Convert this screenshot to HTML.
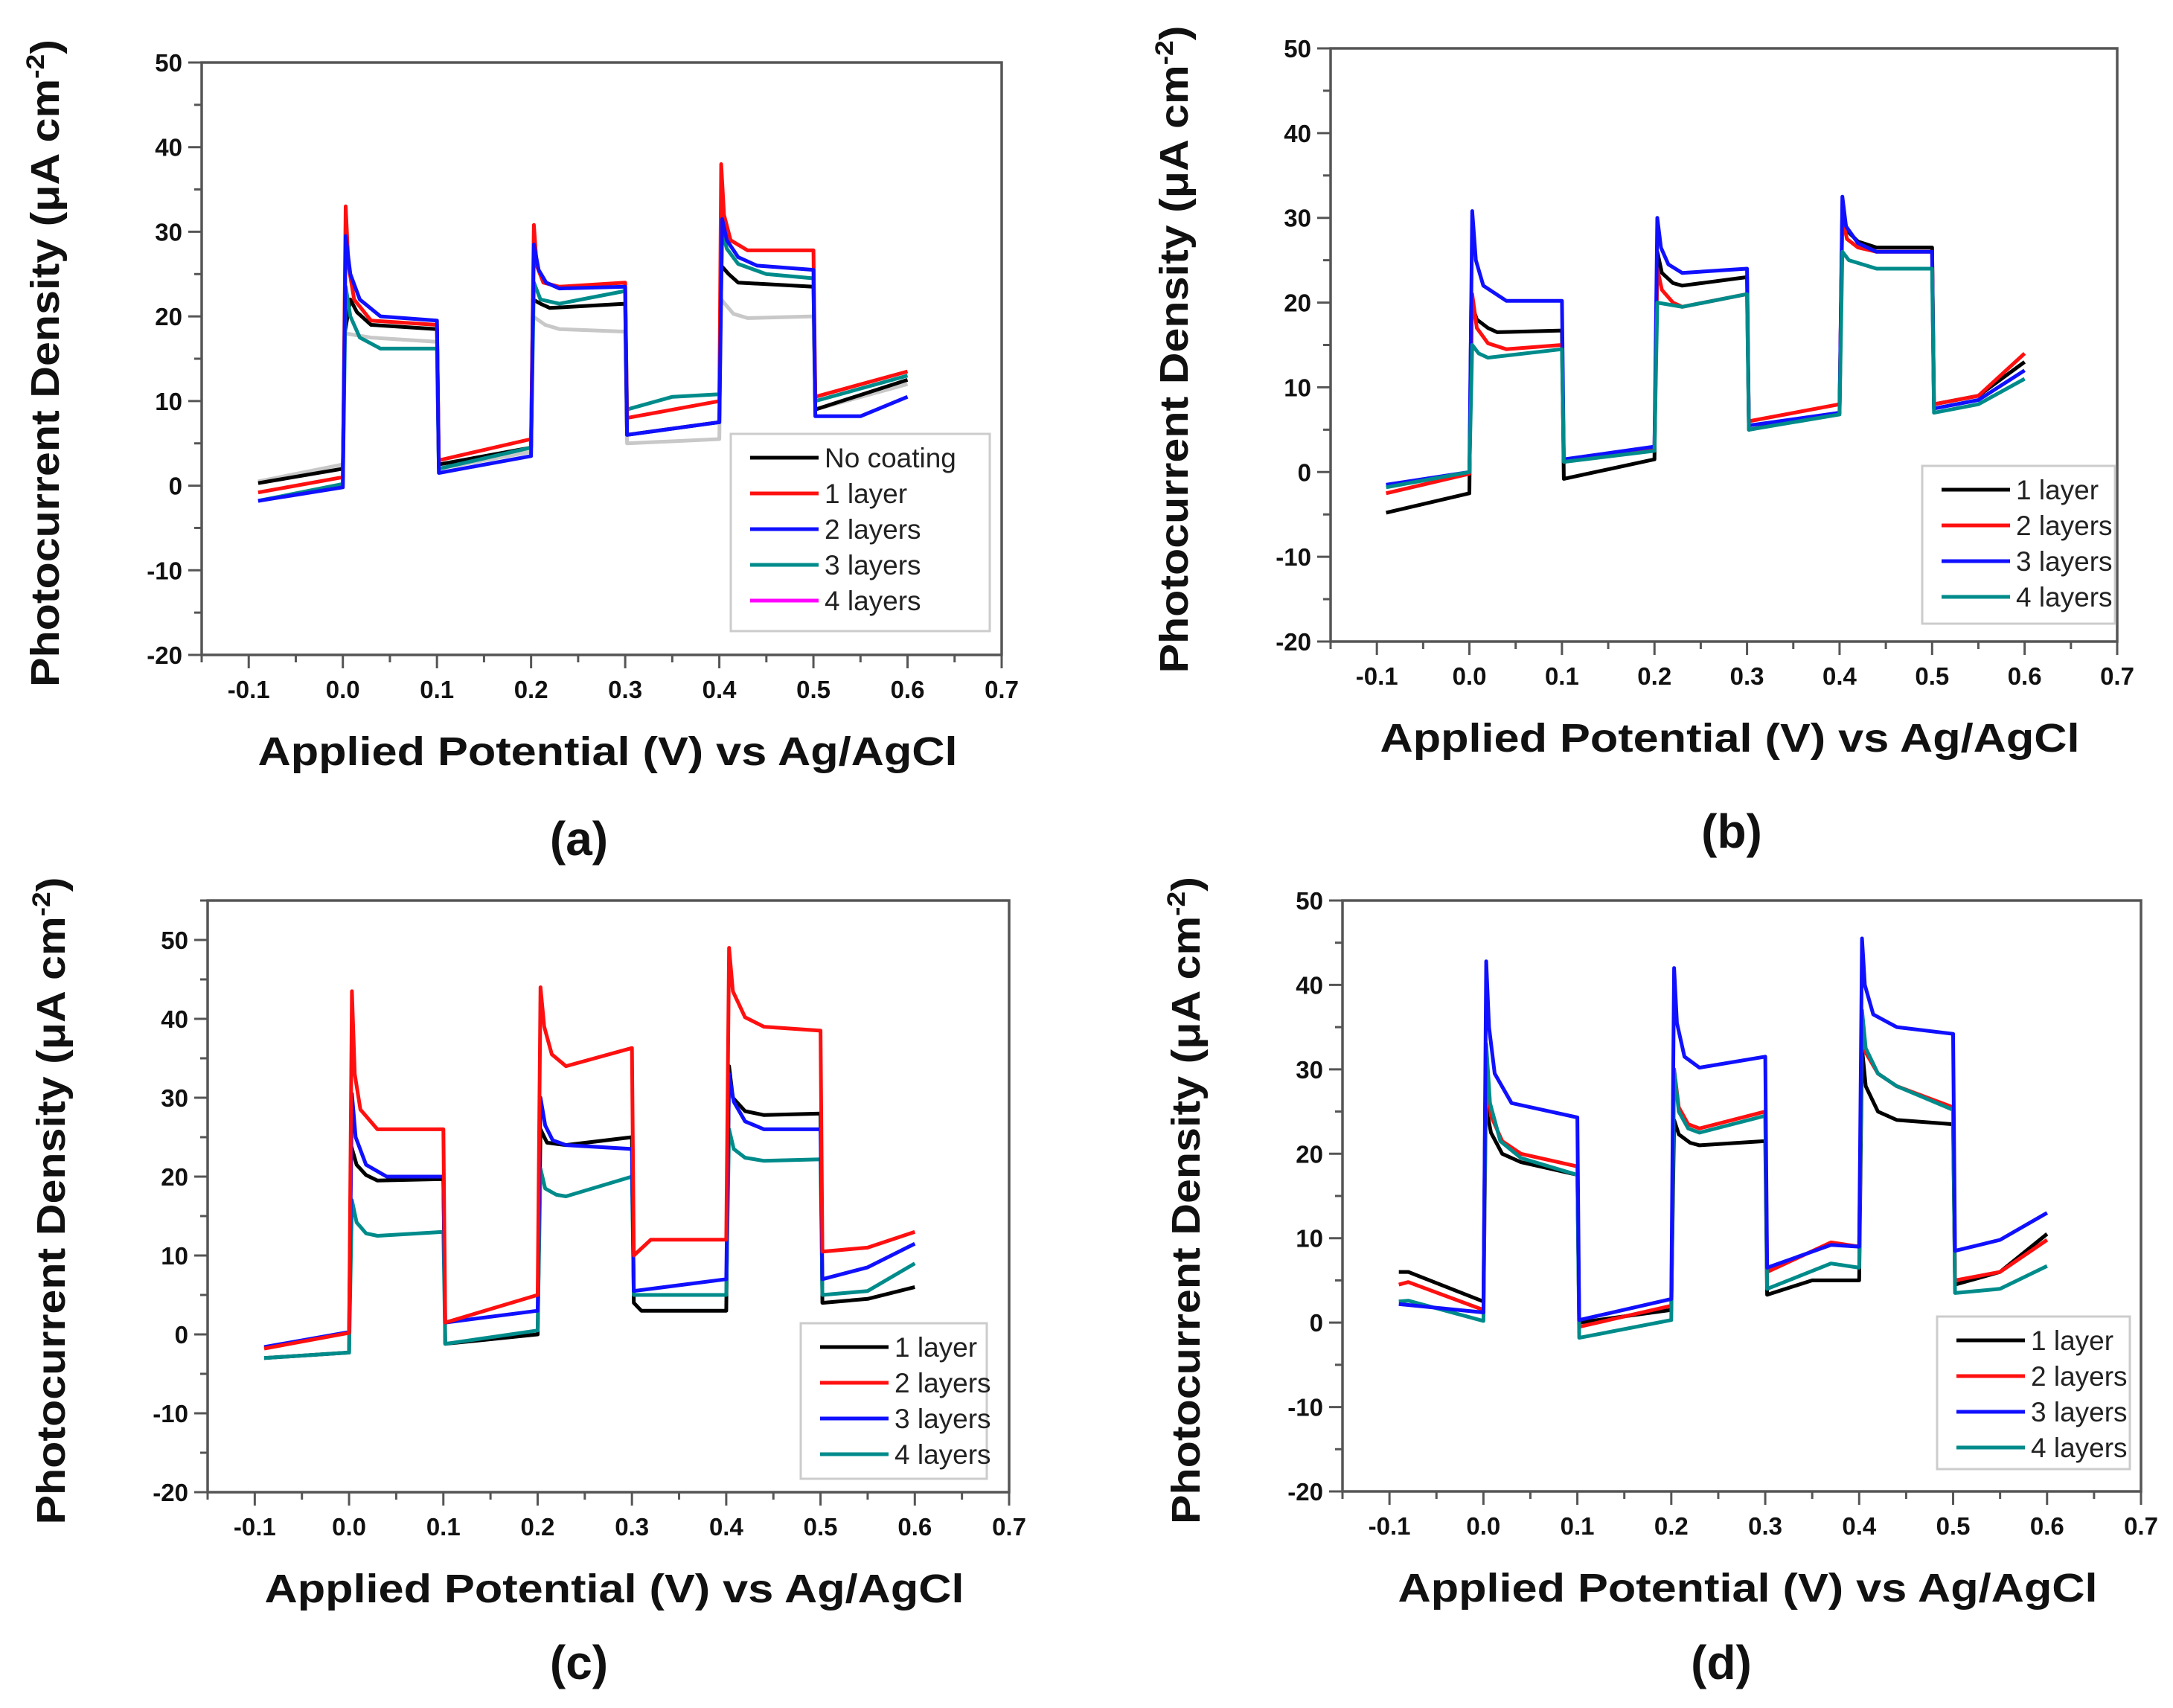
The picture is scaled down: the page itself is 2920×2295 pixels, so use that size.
<!DOCTYPE html>
<html><head><meta charset="utf-8"><style>
html,body{margin:0;padding:0;background:#fff;}
svg{display:block;}
text{font-family:"Liberation Sans",Arial,sans-serif;}
</style></head><body>
<svg id="fig" width="2920" height="2295" viewBox="0 0 2920 2295" xmlns="http://www.w3.org/2000/svg"></svg>
<script>
// ---- data ----
const xTicks = [-0.1,0.0,0.1,0.2,0.3,0.4,0.5,0.6,0.7];
const xTickLabels = ["-0.1","0.0","0.1","0.2","0.3","0.4","0.5","0.6","0.7"];
const yTicks = [-20,-10,0,10,20,30,40,50];
const yTickLabels = ["-20","-10","0","10","20","30","40","50"];

const aNoCoat = [[-0.09,0.3],[0,2],[0.002,18],[0.008,22],[0.015,20.5],[0.03,19],[0.1,18.5],[0.102,2.5],[0.2,4.5],[0.202,22],[0.21,21.5],[0.22,21],[0.3,21.5],[0.302,6],[0.4,7.5],[0.402,26],[0.41,25],[0.42,24],[0.5,23.5],[0.502,9],[0.6,12.5]];
const aGray = [[-0.09,0.5],[0,2.5],[0.002,18],[0.03,17.5],[0.1,17],[0.102,2],[0.2,4],[0.202,20],[0.215,19],[0.23,18.5],[0.3,18.2],[0.302,5],[0.4,5.5],[0.402,22],[0.415,20.3],[0.43,19.8],[0.5,20],[0.502,9],[0.6,12]];
const a1 = [[-0.09,-0.8],[0,1],[0.003,33],[0.006,26],[0.012,22],[0.03,19.5],[0.1,19],[0.102,3],[0.2,5.5],[0.203,30.8],[0.206,26],[0.213,24],[0.23,23.5],[0.3,24],[0.302,8],[0.4,10],[0.402,38],[0.405,32],[0.412,29],[0.43,27.8],[0.5,27.8],[0.502,10.5],[0.6,13.5]];
const a2 = [[-0.09,-1.8],[0,-0.2],[0.003,29.5],[0.008,25],[0.018,22],[0.04,20],[0.1,19.5],[0.102,1.5],[0.2,3.5],[0.203,28.5],[0.208,25.5],[0.216,24],[0.23,23.3],[0.3,23.5],[0.302,6],[0.4,7.5],[0.403,31.5],[0.408,29],[0.42,27],[0.44,26],[0.5,25.5],[0.502,8.2],[0.55,8.2],[0.6,10.5]];
const a3 = [[-0.09,-1.8],[0,0.2],[0.003,23.5],[0.008,20],[0.018,17.5],[0.04,16.2],[0.1,16.2],[0.102,2],[0.2,4.5],[0.203,24],[0.21,22],[0.23,21.5],[0.3,23],[0.302,9],[0.35,10.5],[0.4,10.8],[0.403,30],[0.408,28],[0.42,26.2],[0.45,25],[0.5,24.5],[0.502,10],[0.6,13]];

const b1 = [[-0.09,-4.8],[0,-2.5],[0.002,20],[0.008,18],[0.02,17],[0.03,16.5],[0.1,16.7],[0.102,-0.8],[0.2,1.5],[0.203,26],[0.208,23.5],[0.22,22.3],[0.23,22],[0.3,23],[0.302,5],[0.4,7],[0.403,31],[0.408,28.5],[0.42,27.2],[0.44,26.5],[0.5,26.5],[0.502,8],[0.55,9],[0.6,13]];
const b2 = [[-0.09,-2.5],[0,-0.2],[0.003,21],[0.008,17],[0.02,15.2],[0.04,14.5],[0.1,15],[0.102,1.2],[0.2,2.8],[0.203,24],[0.208,21.5],[0.22,20],[0.23,19.5],[0.3,21],[0.302,6],[0.4,8],[0.403,30],[0.408,27.5],[0.42,26.5],[0.44,26],[0.5,26],[0.502,8],[0.55,9],[0.6,14]];
const b3 = [[-0.09,-1.5],[0,0],[0.003,30.8],[0.007,25],[0.015,22],[0.04,20.2],[0.1,20.2],[0.102,1.5],[0.2,3],[0.203,30],[0.207,26.5],[0.215,24.5],[0.23,23.5],[0.3,24],[0.302,5.5],[0.4,7],[0.403,32.5],[0.407,29],[0.42,27],[0.44,26],[0.5,26],[0.502,7.5],[0.55,8.5],[0.6,12]];
const b4 = [[-0.09,-1.8],[0,0],[0.003,15],[0.01,14],[0.02,13.5],[0.1,14.5],[0.102,1.2],[0.2,2.5],[0.203,20],[0.23,19.5],[0.3,21],[0.302,5],[0.4,6.8],[0.403,26],[0.41,25],[0.44,24],[0.5,24],[0.502,7],[0.55,8],[0.6,11]];

const c1 = [[-0.09,-3],[0,-2.3],[0.002,24],[0.008,21.5],[0.018,20.2],[0.03,19.5],[0.1,19.7],[0.102,-1.2],[0.2,0],[0.203,26],[0.21,24.3],[0.23,24],[0.3,25],[0.302,4],[0.31,3],[0.4,3],[0.403,34],[0.407,30],[0.42,28.3],[0.44,27.8],[0.5,28],[0.502,4],[0.55,4.5],[0.6,6]];
const c2 = [[-0.09,-1.8],[0,0.2],[0.003,43.5],[0.006,33],[0.012,28.5],[0.03,26],[0.1,26],[0.102,1.5],[0.2,5],[0.203,44],[0.207,39],[0.215,35.5],[0.23,34],[0.3,36.3],[0.302,10],[0.32,12],[0.4,12],[0.403,49],[0.407,43.5],[0.42,40.2],[0.44,39],[0.5,38.5],[0.502,10.5],[0.55,11],[0.6,13]];
const c3 = [[-0.09,-1.6],[0,0.3],[0.003,30.5],[0.007,25],[0.018,21.5],[0.04,20],[0.1,20],[0.102,1.5],[0.2,3],[0.203,30],[0.208,26.5],[0.216,24.6],[0.23,24],[0.3,23.5],[0.302,5.5],[0.4,7],[0.403,33],[0.408,29.5],[0.42,27],[0.44,26],[0.5,26],[0.502,7],[0.55,8.5],[0.6,11.5]];
const c4 = [[-0.09,-3],[0,-2.3],[0.003,17],[0.008,14.2],[0.018,12.8],[0.03,12.5],[0.1,13],[0.102,-1.2],[0.2,0.5],[0.203,21],[0.208,18.5],[0.22,17.7],[0.23,17.5],[0.3,20],[0.302,5],[0.4,5],[0.403,26],[0.408,23.5],[0.42,22.4],[0.44,22],[0.5,22.2],[0.502,5],[0.55,5.5],[0.6,9]];

const d1 = [[-0.09,6],[-0.08,6],[0,2.5],[0.002,26],[0.008,22.5],[0.02,20],[0.04,19],[0.1,17.5],[0.102,0],[0.2,1.5],[0.203,24],[0.208,22.3],[0.22,21.3],[0.23,21],[0.3,21.5],[0.302,3.3],[0.35,5],[0.4,5],[0.403,32.5],[0.407,28],[0.42,25],[0.44,24],[0.5,23.5],[0.502,4.5],[0.55,6],[0.6,10.5]];
const d2 = [[-0.09,4.5],[-0.08,4.8],[0,1.5],[0.003,29],[0.008,24.5],[0.02,21.5],[0.04,20],[0.1,18.5],[0.102,-0.5],[0.2,2],[0.203,30],[0.208,25.5],[0.218,23.5],[0.23,23],[0.3,25],[0.302,6],[0.37,9.5],[0.4,9],[0.403,36],[0.407,32],[0.42,29.5],[0.44,28],[0.5,25.5],[0.502,5],[0.55,6],[0.6,9.8]];
const d3 = [[-0.09,2.2],[0,1.2],[0.003,42.8],[0.006,35],[0.012,29.5],[0.03,26],[0.1,24.3],[0.102,0.3],[0.2,2.8],[0.203,42],[0.206,35.5],[0.214,31.5],[0.23,30.2],[0.3,31.5],[0.302,6.5],[0.37,9.2],[0.4,9],[0.403,45.5],[0.406,40],[0.415,36.5],[0.44,35],[0.5,34.2],[0.502,8.5],[0.55,9.8],[0.6,13]];
const d4 = [[-0.09,2.5],[-0.08,2.6],[0,0.2],[0.003,33],[0.007,26],[0.018,21.5],[0.04,19.5],[0.1,17.5],[0.102,-1.8],[0.2,0.3],[0.203,30],[0.208,25],[0.218,23],[0.23,22.5],[0.3,24.5],[0.302,4],[0.37,7],[0.4,6.5],[0.403,37],[0.407,32.5],[0.42,29.5],[0.44,28],[0.5,25.2],[0.502,3.5],[0.55,4],[0.6,6.7]];

const BLACK="#000",RED="#ff1010",BLUE="#1010ff",TEAL="#008b8b",MAG="#ff00ff",GRAY="#c8c8c8";
const panels = [
 {id:"a",L:271,R:1346,T:84,B:880,ymax:50,letter:[778,1127],
  series:[[aGray,GRAY,"gray"],[aNoCoat,BLACK,"no-coating"],[a3,TEAL,"3-layers"],[a1,RED,"1-layer"],[a2,BLUE,"2-layers"]],
  legend:{x:982,y:583,w:348,h:265,items:[["No coating",BLACK],["1 layer",RED],["2 layers",BLUE],["3 layers",TEAL],["4 layers",MAG]]}},
 {id:"b",L:1788,R:2845,T:65,B:862,ymax:50,letter:[2327,1117],
  series:[[b1,BLACK,"1-layer"],[b2,RED,"2-layers"],[b3,BLUE,"3-layers"],[b4,TEAL,"4-layers"]],
  legend:{x:2583,y:626,w:259,h:212,items:[["1 layer",BLACK],["2 layers",RED],["3 layers",BLUE],["4 layers",TEAL]]}},
 {id:"c",L:279,R:1356,T:1210,B:2005,ymax:55,letter:[778,2234],
  series:[[c1,BLACK,"1-layer"],[c4,TEAL,"4-layers"],[c3,BLUE,"3-layers"],[c2,RED,"2-layers"]],
  legend:{x:1076,y:1778,w:250,h:209,items:[["1 layer",BLACK],["2 layers",RED],["3 layers",BLUE],["4 layers",TEAL]]}},
 {id:"d",L:1804,R:2877,T:1210,B:2004,ymax:50,letter:[2313,2234],
  series:[[d1,BLACK,"1-layer"],[d2,RED,"2-layers"],[d4,TEAL,"4-layers"],[d3,BLUE,"3-layers"]],
  legend:{x:2603,y:1769,w:259,h:205,items:[["1 layer",BLACK],["2 layers",RED],["3 layers",BLUE],["4 layers",TEAL]]}}
];

const NS="http://www.w3.org/2000/svg";
const svg=document.getElementById('fig');
function mk(tag,attrs,parent){const e=document.createElementNS(NS,tag);for(const k in attrs)e.setAttribute(k,attrs[k]);(parent||svg).appendChild(e);return e;}

panels.forEach(p=>{
  const g=mk('g',{});
  
  
  const xs=v=>p.L+(v+0.15)/0.85*(p.R-p.L);
  const ys=v=>p.B-(v+20)/(p.ymax+20)*(p.B-p.T);
  for(let v=-0.15;v<=0.701;v+=0.05){const X=xs(v);const major=Math.abs(Math.round(v*10)-v*10)<0.01;
    const t=mk('line',{x1:X,y1:p.B,x2:X,y2:p.B+(major?18:10),stroke:'#555','stroke-width':3},g);
    }
  for(let v=-20;v<=p.ymax;v+=5){const Y=ys(v);const major=v%10===0;
    const t=mk('line',{x1:p.L,y1:Y,x2:p.L-(major?18:10),y2:Y,stroke:'#555','stroke-width':3},g);
    }
  const fr=mk('rect',{x:p.L,y:p.T,width:p.R-p.L,height:p.B-p.T,fill:'none',stroke:'#555','stroke-width':3.5},g);
  
  xTicks.forEach((v,i)=>{const t=mk('text',{x:xs(v),y:p.B+58,'text-anchor':'middle','font-size':33,'font-weight':'bold',fill:'#111'},g);t.textContent=xTickLabels[i];
    });
  yTicks.forEach((v,i)=>{const t=mk('text',{x:p.L-26,y:ys(v)+12,'text-anchor':'end','font-size':33,'font-weight':'bold',fill:'#111'},g);t.textContent=yTickLabels[i];
    });
  p.series.forEach(s=>{const d=s[0].map((pt,i)=>(i?'L':'M')+xs(pt[0]).toFixed(1)+','+ys(pt[1]).toFixed(1)).join(' ');
    const path=mk('path',{d:d,fill:'none',stroke:s[1],'stroke-width':5,'stroke-linejoin':'round'},g);
    });
  const lg=p.legend;
  const lgG=mk('g',{},g);
  
  mk('rect',{x:lg.x,y:lg.y,width:lg.w,height:lg.h,fill:'#fff',stroke:'#ccc','stroke-width':3},lgG);
  lg.items.forEach((it,i)=>{const Y=lg.y+32+i*48;
    const e=mk('g',{},lgG);
    
    mk('line',{x1:lg.x+26,y1:Y,x2:lg.x+118,y2:Y,stroke:it[1],'stroke-width':5},e);
    const t=mk('text',{x:lg.x+126,y:Y+13,'font-size':37,fill:'#222'},e);t.textContent=it[0];});
  const xt=mk('text',{x:(p.L+p.R)/2+8,y:p.B+148,'text-anchor':'middle','font-size':54,'font-weight':'bold',fill:'#111',textLength:940,lengthAdjust:'spacingAndGlyphs'},g);
  xt.textContent='Applied Potential (V) vs Ag/AgCl';
  
  const cx=p.L-192, cy=(p.T+p.B)/2+6;
  const yt=mk('text',{x:cx,y:cy,'text-anchor':'middle','font-size':54,'font-weight':'bold',fill:'#111',transform:`rotate(-90 ${cx} ${cy})`,textLength:870,lengthAdjust:'spacingAndGlyphs'},g);
  yt.innerHTML='Photocurrent Density (\u03bcA cm<tspan dy="-20" font-size="34">-2</tspan><tspan dy="20">)</tspan>';
  
  const lt=mk('text',{x:p.letter[0],y:p.letter[1]+22,'text-anchor':'middle','font-size':64,'font-weight':'bold',fill:'#111'},g);
  lt.textContent='('+p.id+')';
  
});
</script>
</body></html>
